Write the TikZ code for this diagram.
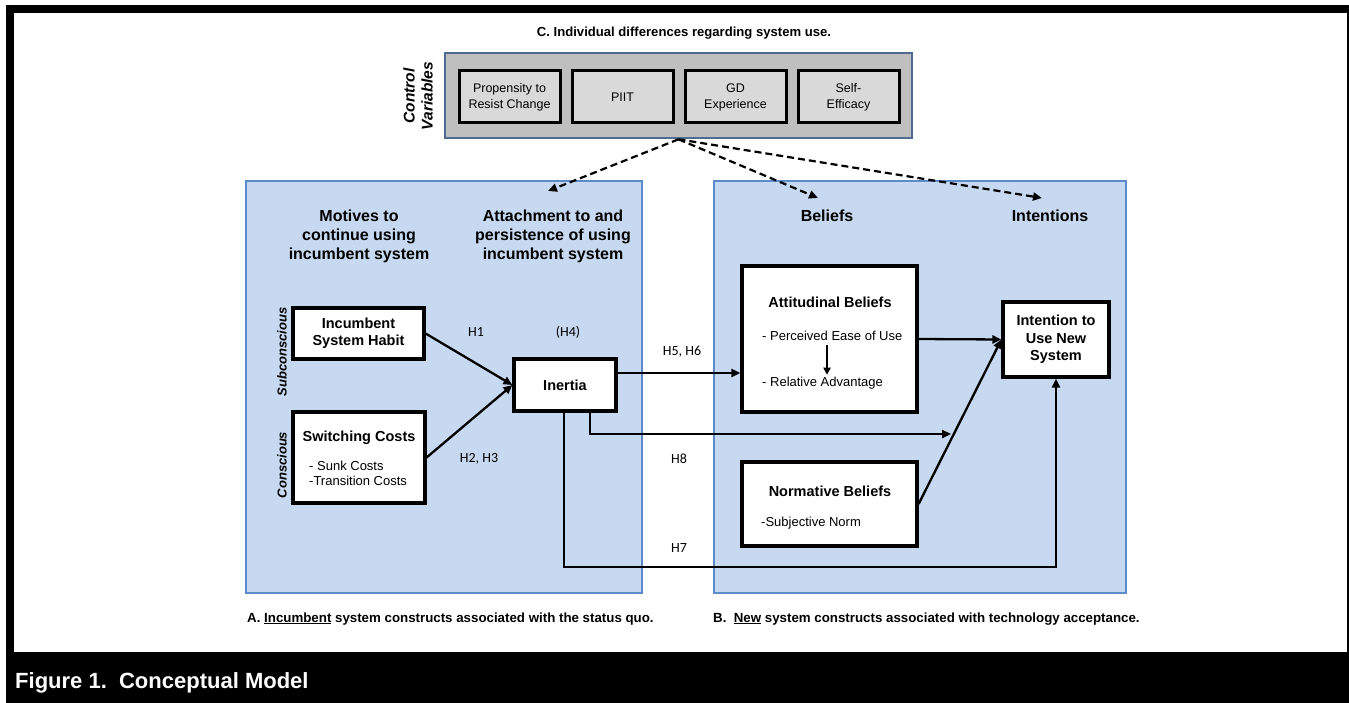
\documentclass[tikz,border=0pt]{standalone}
\usepackage{fontspec}
\setmainfont{Liberation Sans}
\newfontfamily\hypfont{Carlito}
\usetikzlibrary{arrows.meta,calc}

\definecolor{panelblue}{HTML}{C6D9F1}
\definecolor{paneledge}{HTML}{5B8BC8}
\definecolor{ctrlgray}{HTML}{BFBFBF}
\definecolor{ctrledge}{HTML}{4F6B91}
\definecolor{cellgray}{HTML}{D9D9D9}

\tikzset{
  panel/.style={draw=paneledge, line width=2.6pt, fill=panelblue, inner sep=0pt},
  construct/.style={draw=black, line width=3.2pt, fill=white, inner sep=0pt, align=center,
    font=\bfseries\fontsize{14.5}{17.5}\selectfont},
  ctrlcell/.style={draw=black, line width=3pt, fill=cellgray, minimum width=101pt,
    minimum height=52pt, inner sep=0pt, align=center, font=\fontsize{12.5}{16}\selectfont},
  heading/.style={inner sep=0pt, align=center, font=\bfseries\fontsize{16}{19}\selectfont},
  boxtitle/.style={inner sep=0pt, font=\bfseries\fontsize{14.5}{17}\selectfont},
  item/.style={inner sep=0pt, anchor=west, font=\fontsize{13}{15}\selectfont},
  sidelabel/.style={inner sep=0pt, rotate=90, align=center, font=\bfseries\itshape\fontsize{13}{18}\selectfont},
  hyp/.style={inner sep=0pt, font=\hypfont\fontsize{14}{16}\selectfont},
  caption/.style={inner sep=0pt, anchor=base west, font=\bfseries\fontsize{13.3}{16}\selectfont},
  link/.style={line width=2.3pt, -{Triangle[length=9pt,width=8pt]}},
  ctrllink/.style={line width=2.2pt, dash pattern=on 7pt off 4pt, -{Triangle[length=9pt,width=8pt]}},
}

\begin{document}
\begin{tikzpicture}[x=1pt,y=-1pt]
  % page and frame
  \fill[white] (0,0) rectangle (1349,703);
  \useasboundingbox (0,0) rectangle (1349,703);
  \fill[black] (6,5) rectangle (1349,703);
  \fill[white] (14,13) rectangle (1347,652);
  \node[caption, font=\bfseries\fontsize{22}{26}\selectfont, text=white] (figcap) at (15,688) {Figure 1.\ \ Conceptual Model};

  % control variables
  \node[inner sep=0pt, anchor=base, font=\bfseries\fontsize{13.1}{16}\selectfont] (ctitle) at (684,37)
    {C. Individual differences regarding system use.};
  \node[draw=ctrledge, line width=2.6pt, fill=ctrlgray, minimum width=467pt, minimum height=85pt] (ctrl) at (678.5,95.5) {};
  \node[ctrlcell] (resist) at (509.5,97) {Propensity to\\Resist Change};
  \node[ctrlcell] (piit) at (622.5,97) {PIIT};
  \node[ctrlcell] (gdexp) at (735.5,97) {GD\\Experience};
  \node[ctrlcell] (selfeff) at (848.5,97) {Self-\\Efficacy};
  \node[sidelabel, font=\bfseries\itshape\fontsize{15.5}{18}\selectfont] (ctrllabel) at (418,96) {Control\\Variables};

  % panels
  \node[panel, minimum width=396pt, minimum height=412pt] (incpanel) at (444,387) {};
  \node[panel, minimum width=412pt, minimum height=412pt] (newpanel) at (920,387) {};

  \node[heading] (motives) at (359,236) {Motives to\\continue using\\incumbent system};
  \node[heading] (attach) at (553,236) {Attachment to and\\persistence of using\\incumbent system};
  \node[heading] (beliefs) at (827,216) {Beliefs};
  \node[heading] (intentions) at (1050,216) {Intentions};

  \node[sidelabel] (subcon) at (282,352) {Subconscious};
  \node[sidelabel] (con) at (282,465) {Conscious};

  % constructs
  \node[construct, minimum width=131pt, minimum height=51pt] (habit) at (358.5,333.5) {Incumbent\\System Habit};
  \node[construct, minimum width=132pt, minimum height=91pt] (switch) at (359,457.5) {};
  \node[boxtitle] (swtitle) at (359,438) {Switching Costs};
  \node[item] (sunk) at (309,466) {- Sunk Costs};
  \node[item] (trans) at (309,481) {-Transition Costs};

  \node[construct, minimum width=102pt, minimum height=52pt] (inertia) at (565,385) {Inertia};

  \node[construct, minimum width=175pt, minimum height=146pt] (attit) at (829.5,339) {};
  \node[boxtitle] (attitle) at (830,302) {Attitudinal Beliefs};
  \node[item] (peou) at (762,336) {- Perceived Ease of Use};
  \node[item] (reladv) at (762,383) {- Relative Advantage};
  \draw[link, line width=2pt, -{Triangle[length=7pt,width=7pt]}] ([xshift=-3pt,yshift=-4pt]peou.south -| attitle) -- ([xshift=-3pt,yshift=2pt]reladv.north -| attitle);

  \node[construct, minimum width=175pt, minimum height=84pt] (norm) at (829.5,504) {};
  \node[boxtitle] (normtitle) at (830,491) {Normative Beliefs};
  \node[item] (subjnorm) at (761,523) {-Subjective Norm};

  \node[construct, minimum width=106pt, minimum height=75pt] (intent) at (1056,339.5) {Intention to\\Use New\\System};

  % hypotheses
  \draw[link] (habit.east) -- (inertia.west);
  \draw[link] (switch.east) -- (inertia.west);
  \draw[link] ([yshift=12pt]inertia.east) -- ([yshift=12pt]inertia.east -| attit.west);
  \coordinate (h8end) at (951,434);
  \draw[link] ([xshift=25pt]inertia.south) |- (h8end);
  \coordinate (h7corner) at (1056,567);
  \draw[link] ([xshift=-1pt]inertia.south) |- (h7corner) -- (intent.south);
  \draw[link] (attit.east) -- (intent.west);
  \draw[link] (norm.east) -- (intent.west);

  \node[hyp] (h1) at (476,332) {H1};
  \node[hyp] (h4) at (568,332) {(H4)};
  \node[hyp] (h23) at (479,459) {H2, H3};
  \node[hyp] (h56) at (682,352) {H5, H6};
  \node[hyp] (h8) at (679,459) {H8};
  \node[hyp] (h7) at (679,548) {H7};

  % control links
  \coordinate (tgtinc) at (548,191);
  \coordinate (tgtbel) at (818,198);
  \coordinate (tgtint) at (1042,198);
  \draw[ctrllink] (ctrl.south) -- (tgtinc);
  \draw[ctrllink] (ctrl.south) -- (tgtbel);
  \draw[ctrllink] (ctrl.south) -- (tgtint);

  % captions
  \node[caption] (capinc) at (247,622) {A. \underline{Incumbent} system constructs associated with the status quo.};
  \node[caption] (capnew) at (713,622) {B.\ \ \underline{New} system constructs associated with technology acceptance.};
\end{tikzpicture}
\end{document}
